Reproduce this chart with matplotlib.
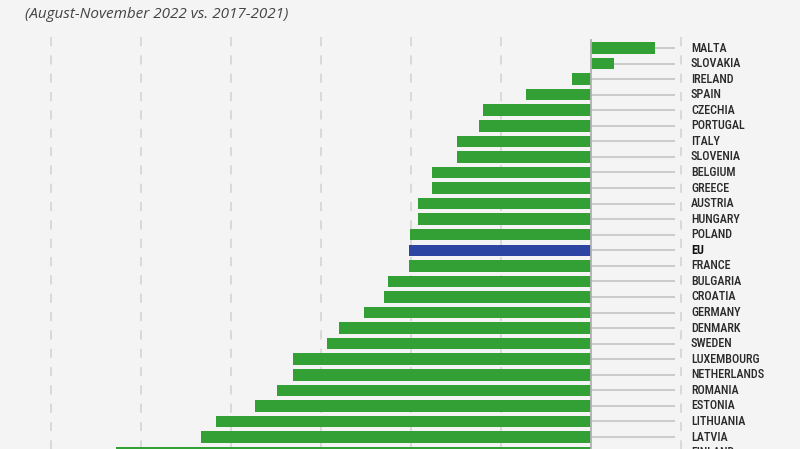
import numpy as np
import matplotlib.pyplot as plt

# Change in natural gas consumption, Aug-Nov 2022 vs 2017-2021 average (%)
countries = ["MALTA", "SLOVAKIA", "IRELAND", "SPAIN", "CZECHIA", "PORTUGAL", "ITALY",
             "SLOVENIA", "BELGIUM", "GREECE", "AUSTRIA", "HUNGARY", "POLAND", "EU",
             "FRANCE", "BULGARIA", "CROATIA", "GERMANY", "DENMARK", "SWEDEN",
             "LUXEMBOURG", "NETHERLANDS", "ROMANIA", "ESTONIA", "LITHUANIA", "LATVIA",
             "FINLAND"]
change = [7.1, 2.6, -2.1, -7.2, -12.0, -12.4, -14.9,
          -14.9, -17.7, -17.7, -19.2, -19.2, -20.1, -20.2,
          -20.2, -22.6, -23.0, -25.2, -28.0, -29.3,
          -33.1, -33.1, -34.9, -37.3, -41.7, -43.3,
          -52.8]
grid_ticks = [-60, -50, -40, -30, -20, -10, 10]

BG = "#f4f4f4"
GREEN = "#33a035"
BLUE = "#2c45a3"

fig = plt.figure(figsize=(8, 4.49), dpi=100)
fig.patch.set_facecolor(BG)
ax = fig.add_axes([0, 0, 1, 1])
ax.set_facecolor(BG)

# pixel mapping: zero at x=591, 90px per 10 points; row 0 at y=48, 15.56px per row
ax.set_xlim(-591 / 9, (800 - 591) / 9)
ax.set_ylim((449 - 48) / 15.56, -48 / 15.56)
ax.axis("off")

y = np.arange(len(countries))
top = (37 - 48) / 15.56

for g in grid_ticks:
    ax.plot([g, g], [top, 30], color="#d2d2d2", lw=1.1, ls=(0, (6, 6)), zorder=1)
ax.plot([0, 0], [top + 0.2, 30], color="#b0b0b0", lw=1.3, zorder=3)

# leader lines to labels
for yi in y:
    ax.plot([0, 9.2], [yi, yi], color="#cbcbcb", lw=1.4, zorder=1)

colors = [BLUE if c == "EU" else GREEN for c in countries]
ax.barh(y, change, height=0.74, color=colors, zorder=2)

for yi, name in zip(y, countries):
    ax.text(11.1, yi, name, va="center", ha="left", fontsize=8.7,
            family="Roboto Condensed",
            fontweight="bold" if name == "EU" else "medium",
            color="#111111" if name == "EU" else "#2a2a2a")

fig.text(25 / 800, 1 - 15 / 449, "(August-November 2022 vs. 2017-2021)",
         ha="left", va="center", fontsize=11.0, style="italic", color="#444444",
         family="Open Sans")

fig.savefig("out.png", dpi=100, facecolor=BG)
